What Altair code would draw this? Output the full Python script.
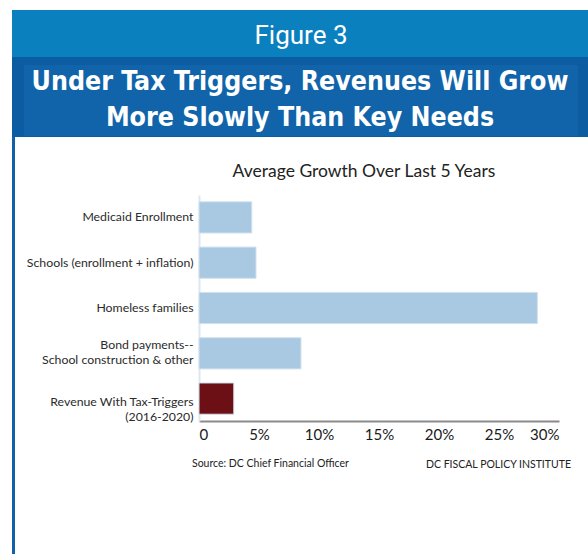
import altair as alt
import pandas as pd

categories = [
    "Medicaid Enrollment",
    "Schools (enrollment + inflation)",
    "Homeless families",
    "Bond payments--\nSchool construction & other",
    "Revenue With Tax-Triggers\n(2016-2020)",
]
growth = [0.044, 0.0475, 0.282, 0.085, 0.029]
bar_colors = ["#a9c8e1", "#a9c8e1", "#a9c8e1", "#a9c8e1", "#6d1016"]
x_ticks = [0, 0.05, 0.10, 0.15, 0.20, 0.25, 0.30]

df = pd.DataFrame({"category": categories, "growth": growth})
one = pd.DataFrame({"k": [0]})

W, H = 360, 226
L, T = 199, 195

label_offset = {
    "condition": [
        {"test": "indexof(datum.value, 'Bond') == 0", "value": -8},
        {"test": "indexof(datum.value, 'Revenue') == 0", "value": 3},
    ],
    "value": 0,
}

bars = alt.Chart(df).mark_bar(stroke="#d3e3ef", strokeWidth=1).encode(
    y=alt.Y(
        "category:N",
        sort=categories,
        scale=alt.Scale(paddingInner=0.31, paddingOuter=0.15),
        axis=alt.Axis(
            title=None,
            labelExpr="split(datum.label, '\\n')",
            labelFont="Lato",
            labelFontSize=12.3,
            labelColor="#2b2b2b",
            labelLineHeight=15,
            labelPadding=6,
            labelOffset=label_offset,
            ticks=False,
            domainColor="#dde7f0",
            domainWidth=2,
            labelLimit=300,
        ),
    ),
    x=alt.X(
        "growth:Q",
        scale=alt.Scale(domain=[0, 0.30], nice=False),
        axis=alt.Axis(
            title=None,
            values=x_ticks,
            labelExpr="datum.value == 0 ? '0' : format(datum.value, '.0%')",
            labelFont="Lato",
            labelFontSize=15,
            labelColor="#1a1a1a",
            labelPadding=6,
            ticks=False,
            grid=False,
            domainColor="#8a8a8a",
            domainWidth=2,
        ),
    ),
    color=alt.Color(
        "category:N",
        scale=alt.Scale(domain=categories, range=bar_colors),
        legend=None,
    ),
)


def rect(x1, x2, y1, y2, color):
    return alt.Chart(one).mark_rect(color=color).encode(
        x=alt.value(x1 - L), x2=alt.value(x2 - L),
        y=alt.value(y1 - T), y2=alt.value(y2 - T),
    )


def txt(s, x, y, size, font="Lato", weight="normal", color="#222", align="center"):
    return alt.Chart(one).mark_text(
        text=s, font=font, fontSize=size, fontWeight=weight, color=color,
        align=align, baseline="middle",
    ).encode(x=alt.value(x - L), y=alt.value(y - T))


TFONT = "'DejaVu Sans Condensed', Roboto, sans-serif"
deco = [
    rect(12, 588, 10, 57, "#0a80bf"),
    rect(12, 588, 57, 137, "#0c5ca1"),
    rect(24, 578, 65, 136, "#1164aa"),
    rect(12, 15, 137, 554, "#1160a8"),
]
texts = [
    txt("Figure 3", 301, 36, 26, font="Roboto", weight="normal", color="white"),
    txt("Under Tax Triggers, Revenues Will Grow", 300, 82, 26.5, font=TFONT, weight="bold", color="white"),
    txt("More Slowly Than Key Needs", 300, 118, 26.5, font=TFONT, weight="bold", color="white"),
    txt("Average Growth Over Last 5 Years", 364, 172, 17.5, color="#222"),
    txt("Source: DC Chief Financial Officer", 192, 464, 10.5, color="#222", align="left"),
    txt("DC FISCAL POLICY INSTITUTE", 571, 465, 10.5, color="#222", align="right"),
]

chart = alt.layer(*deco, bars, *texts).properties(
    width=W, height=H,
    autosize=alt.AutoSizeParams(type="none"),
    padding={"left": L, "top": T, "right": 588 - L - W, "bottom": 554 - T - H},
    background="white",
).configure_view(stroke=None)

chart.save("out.html", embed_options={"renderer": "svg", "actions": False})
